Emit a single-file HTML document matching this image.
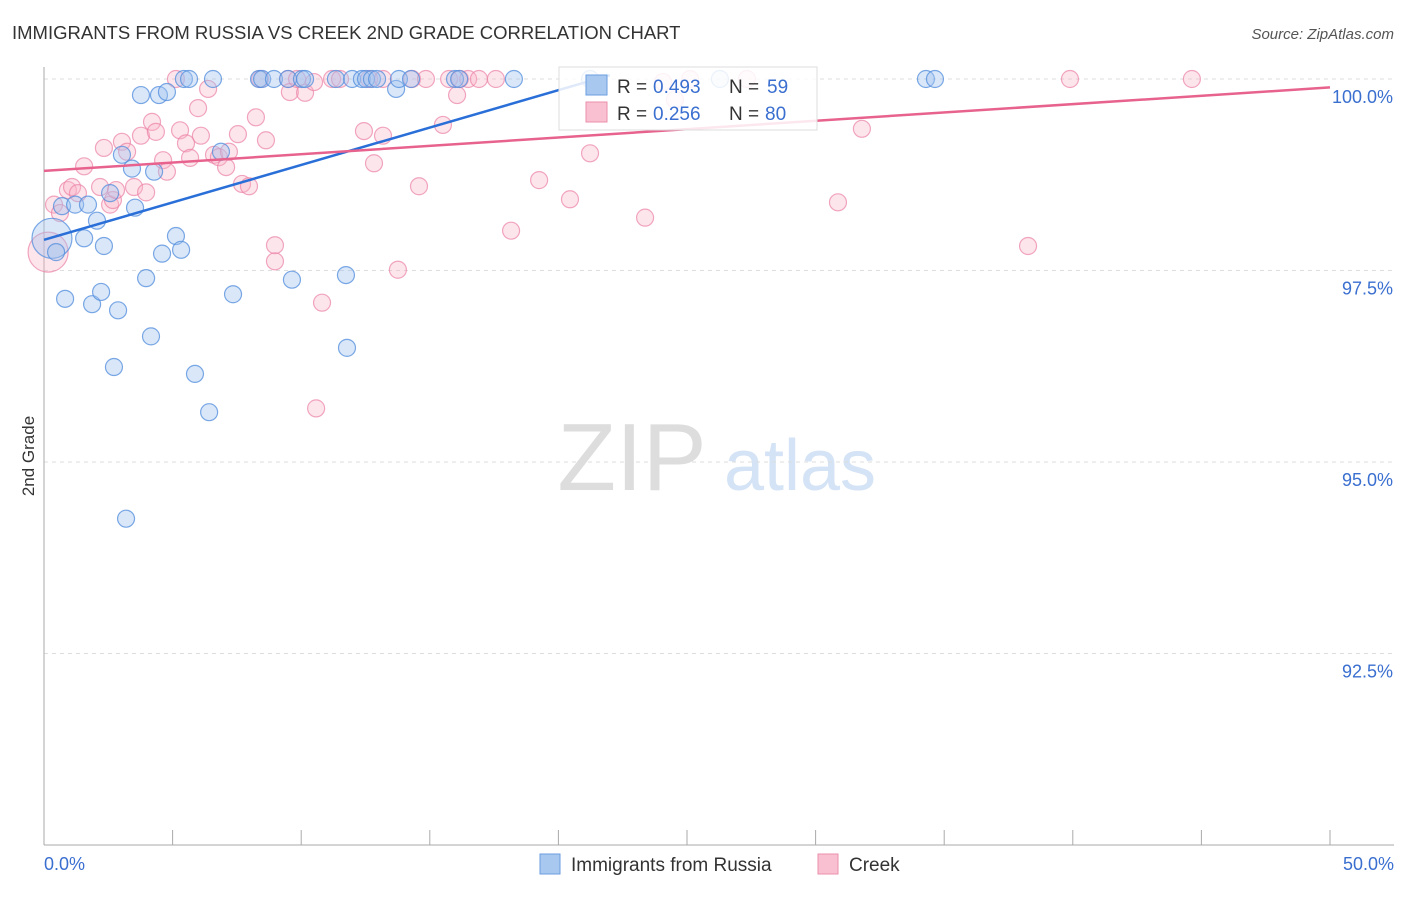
<!DOCTYPE html>
<html><head><meta charset="utf-8">
<style>
body{margin:0;background:#fff;font-family:"Liberation Sans",sans-serif;}
svg text{font-family:"Liberation Sans",sans-serif;}
</style></head>
<body>
<svg id="chart" width="1406" height="892" xmlns="http://www.w3.org/2000/svg">
<text x="12" y="39" font-size="18.5" fill="#333">IMMIGRANTS FROM RUSSIA VS CREEK 2ND GRADE CORRELATION CHART</text>
<text x="1394" y="39" font-size="15" fill="#555" text-anchor="end" font-style="italic">Source: ZipAtlas.com</text>
<text transform="translate(34,456) rotate(-90)" font-size="17" fill="#333" text-anchor="middle">2nd Grade</text>
<g>
<text x="632" y="490" font-size="96" fill="#ddd" text-anchor="middle" font-family="Liberation Serif, serif">ZIP</text>
<text x="800" y="490" font-size="72" fill="#d4e3f5" text-anchor="middle">atlas</text>
</g>
<g id="grid"></g>
<g id="axes"></g>
<g id="pts"></g>
<g id="trends"></g>
<g>
<rect x="559" y="67" width="258" height="63" fill="rgba(255,255,255,0.85)" stroke="#ddd"/>
<rect x="586" y="75" width="21" height="20" fill="#a9c8f0" stroke="#6b9ee0"/>
<rect x="586" y="102" width="21" height="20" fill="#f8c0d0" stroke="#eb8fab"/>
<text x="617" y="93" font-size="19" fill="#333">R =</text>
<text x="653" y="93" font-size="19" fill="#3a6fd0">0.493</text>
<text x="729" y="93" font-size="19" fill="#333">N =</text>
<text x="767" y="93" font-size="19" fill="#3a6fd0">59</text>
<text x="617" y="120" font-size="19" fill="#333">R =</text>
<text x="653" y="120" font-size="19" fill="#3a6fd0">0.256</text>
<text x="729" y="120" font-size="19" fill="#333">N =</text>
<text x="765" y="120" font-size="19" fill="#3a6fd0">80</text>
</g>
<g>
<rect x="540" y="854" width="20" height="20" fill="#a9c8f0" stroke="#6b9ee0"/>
<text x="571" y="871" font-size="19" fill="#333">Immigrants from Russia</text>
<rect x="818" y="854" width="20" height="20" fill="#f8c0d0" stroke="#eb8fab"/>
<text x="849" y="871" font-size="19" fill="#333">Creek</text>
</g>
</svg>
<script>
const yTicks=[100,97.5,95,92.5];
const yTickLabels=["100.0%","97.5%","95.0%","92.5%"];
const xTickVals=[0,5,10,15,20,25,30,35,40,45,50];
const xEndLabels=["0.0%","50.0%"];
const russiaX=[0.31,0.47,0.70,0.82,1.21,1.56,1.71,1.87,2.06,2.22,2.33,2.57,2.72,2.88,3.03,3.19,3.42,3.54,3.77,3.97,4.16,4.28,4.47,4.59,4.78,5.13,5.33,5.44,5.64,5.87,6.42,6.57,6.88,7.35,8.36,8.48,8.94,9.49,9.64,10.03,10.15,11.35,11.74,11.78,11.98,12.36,12.52,12.75,12.95,13.69,13.80,14.27,15.98,16.14,18.27,21.23,26.28,34.29,34.64];
const russiaY=[97.92,97.74,98.34,97.13,98.36,97.92,98.36,97.06,98.15,97.22,97.82,98.51,96.24,96.98,99.01,94.26,98.83,98.32,99.79,97.40,96.64,98.79,99.79,97.72,99.83,97.95,97.77,100,100,96.15,95.65,100,99.05,97.19,100,100,100,100,97.38,100,100,100,97.44,96.49,100,100,100,100,100,99.87,100,100,100,100,100,100,100,100,100];
const creekX=[0.16,0.39,0.62,0.93,1.09,1.32,1.56,2.18,2.33,2.57,2.68,2.80,3.03,3.23,3.50,3.77,3.97,4.20,4.35,4.63,4.78,5.13,5.29,5.52,5.68,5.99,6.10,6.38,6.61,6.80,7.08,7.19,7.54,7.70,7.97,8.24,8.40,8.63,8.98,8.98,9.49,9.56,9.84,10.15,10.50,10.58,10.81,11.20,11.51,12.44,12.64,12.83,13.18,13.18,13.76,14.31,14.58,14.85,15.51,15.75,16.06,16.17,16.49,16.91,17.57,18.16,19.25,20.45,21.23,23.37,24.07,24.53,25.12,27.33,30.87,31.80,38.26,39.89,44.63];
const creekY=[97.74,98.36,98.25,98.55,98.59,98.51,98.86,98.59,99.10,98.36,98.42,98.55,99.18,99.05,98.59,99.26,98.52,99.44,99.31,98.94,98.79,100,99.33,99.16,98.97,99.62,99.26,99.87,99.01,98.98,98.85,99.05,99.28,98.63,98.60,99.50,100,99.20,97.83,97.62,100,99.83,100,99.82,99.96,95.70,97.08,100,100,99.32,100,98.90,99.26,100,97.51,100,98.60,100,99.40,100,99.79,100,100,100,100,98.02,98.68,98.43,99.03,98.19,99.96,99.73,100,100,98.39,99.35,97.82,100,100];
const russiaTrend=[[0,97.9],[22,100.05]];
const creekTrend=[[0,98.8],[50,99.89]];
const NS="http://www.w3.org/2000/svg";
const xs=v=>44+v/50*1286;
const ys=v=>79+(100-v)*76.6;
function mk(tag,attrs,parent){const e=document.createElementNS(NS,tag);for(const k in attrs)e.setAttribute(k,attrs[k]);document.getElementById(parent).appendChild(e);return e;}
yTicks.forEach((t,i)=>{
 const l=mk('line',{x1:44,x2:1394,y1:ys(t),y2:ys(t),stroke:'#ddd','stroke-dasharray':'4,4'},'grid');
 
 
 const tx=mk('text',{x:1393,y:ys(t)+24,'font-size':18,fill:'#3a6fd0','text-anchor':'end'},'grid');
 tx.textContent=yTickLabels[i];
 
 
});
const ax=mk('line',{x1:44,x2:44,y1:67,y2:845,stroke:'#aaa'},'axes');


const bx=mk('line',{x1:44,x2:1394,y1:845,y2:845,stroke:'#aaa'},'axes');


xTickVals.forEach(v=>{
 const t=mk('line',{x1:xs(v),x2:xs(v),y1:830,y2:845,stroke:'#aaa'},'axes');
 
 
});
const l0=mk('text',{x:44,y:870,'font-size':18,fill:'#3a6fd0'},'axes');l0.textContent=xEndLabels[0];


const l1=mk('text',{x:1394,y:870,'font-size':18,fill:'#3a6fd0','text-anchor':'end'},'axes');l1.textContent=xEndLabels[1];


function pts(X,Y,fill,stroke,name){X.forEach((x,i)=>{
 const r=(i===0)?20:8.5;
 const c=mk('circle',{cx:xs(x),cy:ys(Y[i]),r:r,fill:fill,stroke:stroke,'stroke-width':1.2},'pts');
 
 
});}
pts(creekX,creekY,'rgba(248,180,200,0.35)','rgba(235,130,165,0.7)','creek-point');
pts(russiaX,russiaY,'rgba(160,196,240,0.4)','rgba(80,140,220,0.75)','russia-point');
const tr1=mk('line',{x1:xs(russiaTrend[0][0]),y1:ys(russiaTrend[0][1]),x2:xs(russiaTrend[1][0]),y2:ys(russiaTrend[1][1]),stroke:'#2a6fd8','stroke-width':2.5},'trends');


const tr2=mk('line',{x1:xs(creekTrend[0][0]),y1:ys(creekTrend[0][1]),x2:xs(creekTrend[1][0]),y2:ys(creekTrend[1][1]),stroke:'#e8628e','stroke-width':2.5},'trends');


</script>
</body></html>
